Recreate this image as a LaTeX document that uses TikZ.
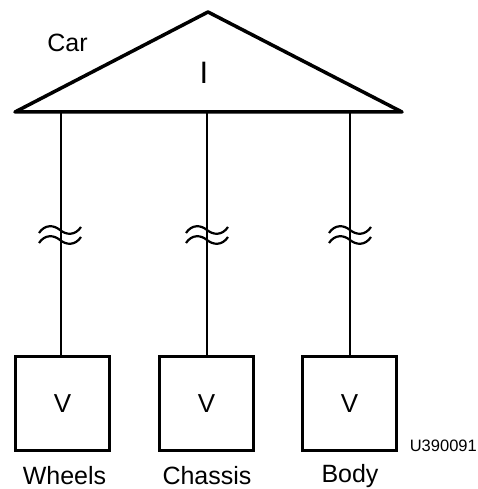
\documentclass[tikz,border=0pt]{standalone}
\usepackage{fontspec}
\setmainfont{Liberation Sans}
\begin{document}
\begin{tikzpicture}[x=1pt,y=1pt,
  thick/.style={line width=3.5pt,line join=round},
  conn/.style={line width=1.4pt},
  brk/.style={line width=2.2pt},
  part/.style={draw,line width=3.5pt,minimum width=94pt,minimum height=94pt,inner sep=0pt,font=\fontsize{26}{30}\selectfont},
  lbl/.style={anchor=base,font=\fontsize{25}{29}\selectfont,inner sep=0pt}]
\useasboundingbox (0,0) rectangle (478,489);
% triangle
\coordinate (apex) at (208,477);
\coordinate (bl) at (15,377);
\coordinate (br) at (402,377);
\draw[thick] (bl) -- (apex) -- (br) -- cycle;
\node[lbl] (car) at (67.5,437) {Car};
\node[anchor=base,inner sep=0pt,font=\fontsize{31}{34}\selectfont] (iface) at (204,405) {I};
% boxes
\node[part] (w) at (62.5,85.5) {V};
\node[part] (c) at (206.5,85.5) {V};
\node[part] (b) at (349.5,85.5) {V};
\coordinate (tw) at (61,377);
\coordinate (tc) at (207,377);
\coordinate (tb) at (350,377);
\draw[conn] (tw) -- (w.north -| tw);
\draw[conn] (tc) -- (c.north -| tc);
\draw[conn] (tb) -- (b.north -| tb);
% break marks
\foreach \cx in {60,207,350}{
  \foreach \cy in {259,249}{
    \draw[brk] (\cx-21,\cy-3) .. controls (\cx-15,\cy+6) and (\cx-6,\cy+5) .. (\cx,\cy)
       .. controls (\cx+6,\cy-5) and (\cx+15,\cy-6) .. (\cx+21,\cy+3);
  }
}
% labels
\node[lbl] (lw) at (64.5,5) {Wheels};
\node[lbl] (lc) at (207,5) {Chassis};
\node[lbl] (lb) at (350,6) {Body};
\node[anchor=base east,inner sep=0pt,font=\fontsize{16.5}{20}\selectfont] (code) at (477,37) {U390091};
\end{tikzpicture}
\end{document}
